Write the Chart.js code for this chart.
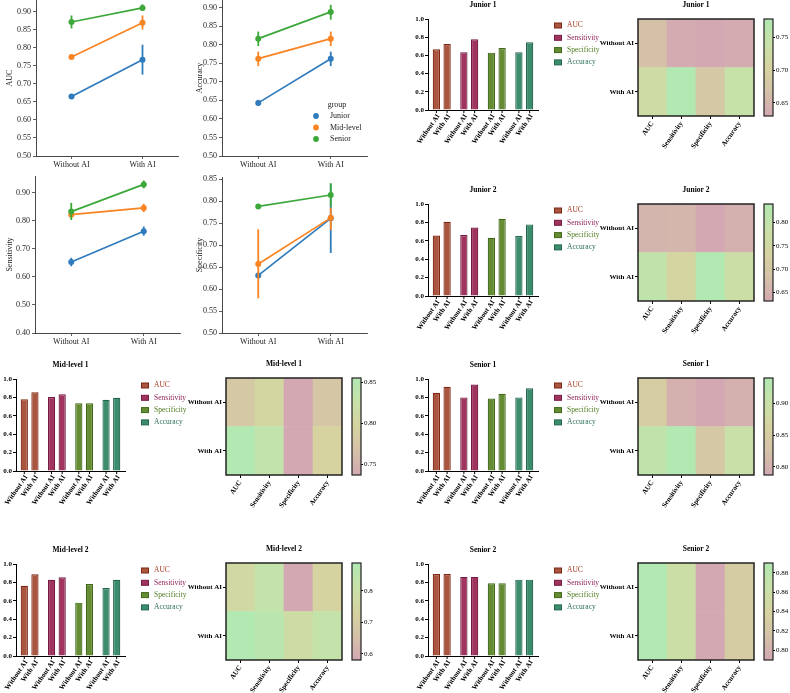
<!DOCTYPE html>
<html>
<head>
<meta charset="utf-8">
<script src="https://cdn.jsdelivr.net/npm/chart.js@4.4.1/dist/chart.umd.min.js"></script>
<style>
  html, body { margin: 0; padding: 0; background: #fff; }
  #fig { position: relative; width: 790px; height: 693px; overflow: hidden; }
  #fig canvas { position: absolute; }
</style>
</head>
<body>
<div id="fig"></div>
<script>
// ---------- data ----------
const phases = ['Without AI', 'With AI'];
const groups = ['Junior', 'Mid-level', 'Senior'];
const metrics = ['AUC', 'Sensitivity', 'Specificity', 'Accuracy'];
const heatRowLabels = ['With AI', 'Without AI']; // bottom -> top

// pooled estimates per group [Without AI, With AI] with CI bounds
const aucMean = [[0.665, 0.767], [0.775, 0.870], [0.872, 0.911]];
const aucLow = [[0.662, 0.726], [0.772, 0.851], [0.854, 0.904]];
const aucHigh = [[0.668, 0.809], [0.778, 0.890], [0.890, 0.921]];

const accMean = [[0.643, 0.762], [0.762, 0.816], [0.816, 0.888]];
const accLow = [[0.635, 0.742], [0.742, 0.796], [0.796, 0.867]];
const accHigh = [[0.651, 0.781], [0.781, 0.835], [0.835, 0.907]];

const sensMean = [[0.653, 0.763], [0.822, 0.846], [0.833, 0.930]];
const sensLow = [[0.638, 0.747], [0.813, 0.831], [0.803, 0.916]];
const sensHigh = [[0.668, 0.780], [0.830, 0.861], [0.864, 0.944]];

const specMean = [[0.631, 0.761], [0.657, 0.762], [0.788, 0.814]];
const specLow = [[0.628, 0.682], [0.579, 0.734], [0.786, 0.787]];
const specHigh = [[0.634, 0.839], [0.736, 0.785], [0.790, 0.841]];

const aucTicks = [0.50, 0.55, 0.60, 0.65, 0.70, 0.75, 0.80, 0.85, 0.90];
const accTicks = [0.50, 0.55, 0.60, 0.65, 0.70, 0.75, 0.80, 0.85, 0.90];
const sensTicks = [0.40, 0.50, 0.60, 0.70, 0.80, 0.90];
const specTicks = [0.50, 0.55, 0.60, 0.65, 0.70, 0.75, 0.80, 0.85];

// per-reader values, order = metrics
const junior1Without = [0.667, 0.634, 0.630, 0.634];
const junior1With = [0.726, 0.778, 0.681, 0.744];
const junior2Without = [0.658, 0.662, 0.632, 0.651];
const junior2With = [0.806, 0.745, 0.840, 0.778];
const mid1Without = [0.779, 0.804, 0.737, 0.775];
const mid1With = [0.855, 0.833, 0.737, 0.797];
const mid2Without = [0.764, 0.829, 0.580, 0.738];
const mid2With = [0.888, 0.855, 0.782, 0.829];
const senior1Without = [0.850, 0.800, 0.787, 0.800];
const senior1With = [0.915, 0.940, 0.840, 0.900];
const senior2Without = [0.890, 0.860, 0.790, 0.830];
const senior2With = [0.890, 0.860, 0.790, 0.830];

// colorbar ticks
const junior1Cb = [0.65, 0.70, 0.75];
const junior2Cb = [0.65, 0.70, 0.75, 0.80];
const mid1Cb = [0.75, 0.80, 0.85];
const mid2Cb = [0.6, 0.7, 0.8];
const senior1Cb = [0.80, 0.85, 0.90];
const senior2Cb = [0.80, 0.82, 0.84, 0.86, 0.88];

// ---------- styles ----------
const SERIF = '"Liberation Serif", "Times New Roman", serif';
Chart.defaults.font.family = SERIF;
Chart.defaults.color = '#000';

const groupColors = ['#2f7bbd', '#fa8322', '#3ca83a'];
const metricFill = ['#a9553f', '#a0345f', '#658c33', '#3c8c6e'];
const metricEdge = ['#7e2814', '#741a44', '#3f6a1a', '#24664c'];
const metricText = ['#a33a22', '#8e2456', '#4e7a1e', '#2a6e54'];
const cmapStops = [
  [0, [211, 168, 178]],
  [0.25, [213, 193, 168]],
  [0.5, [214, 211, 160]],
  [0.75, [200, 225, 168]],
  [1, [178, 232, 178]]
];

function cmap(t) {
  t = Math.max(0, Math.min(1, t));
  for (let i = 1; i < cmapStops.length; i++) {
    const [t1, c1] = cmapStops[i];
    const [t0, c0] = cmapStops[i - 1];
    if (t <= t1) {
      const f = (t - t0) / (t1 - t0);
      const c = c0.map((v, k) => Math.round(v + (c1[k] - v) * f));
      return `rgb(${c[0]},${c[1]},${c[2]})`;
    }
  }
  return 'rgb(178,232,178)';
}

const fig = document.getElementById('fig');
function makeCanvas(b) {
  const c = document.createElement('canvas');
  c.width = b.w; c.height = b.h;
  c.style.left = b.x + 'px'; c.style.top = b.y + 'px';
  c.style.width = b.w + 'px'; c.style.height = b.h + 'px';
  fig.appendChild(c);
  return c;
}

// ---------- plugins ----------
const errorBars = {
  id: 'errorBars',
  beforeDatasetDraw(chart, args) {
    const ds = chart.data.datasets[args.index];
    if (!ds.lows) return;
    const y = chart.scales.y, ctx = chart.ctx;
    ctx.save();
    ctx.strokeStyle = ds.borderColor;
    ctx.lineWidth = 1.8;
    args.meta.data.forEach((pt, j) => {
      ctx.beginPath();
      ctx.moveTo(pt.x, y.getPixelForValue(ds.lows[j]));
      ctx.lineTo(pt.x, y.getPixelForValue(ds.highs[j]));
      ctx.stroke();
    });
    ctx.restore();
  }
};

const groupLegend = {
  id: 'groupLegend',
  afterDraw(chart, args, opts) {
    if (!opts.show) return;
    const { right, bottom } = chart.chartArea, ctx = chart.ctx;
    ctx.save();
    ctx.font = '8px ' + SERIF;
    ctx.fillStyle = '#222';
    ctx.textBaseline = 'middle';
    ctx.textAlign = 'center';
    ctx.fillText('group', right - 30, bottom - 51);
    ctx.textAlign = 'left';
    groups.forEach((g, i) => {
      const yy = bottom - 40 + i * 11.5;
      ctx.fillStyle = groupColors[i];
      ctx.beginPath(); ctx.arc(right - 51, yy, 2.9, 0, Math.PI * 2); ctx.fill();
      ctx.fillStyle = '#222';
      ctx.fillText(g, right - 37, yy);
    });
    ctx.restore();
  }
};

const panelTitle = {
  id: 'panelTitle',
  afterDraw(chart, args, opts) {
    if (!opts.text) return;
    const { left, right, top } = chart.chartArea, ctx = chart.ctx;
    ctx.save();
    ctx.font = 'bold 7.5px ' + SERIF;
    ctx.fillStyle = '#000';
    ctx.textAlign = 'center';
    ctx.textBaseline = 'middle';
    ctx.fillText(opts.text, (left + right) / 2, top - 14);
    ctx.restore();
  }
};

const metricLegend = {
  id: 'metricLegend',
  afterDraw(chart, args, opts) {
    if (!opts.show) return;
    const { right, top } = chart.chartArea, ctx = chart.ctx;
    ctx.save();
    ctx.font = '7.5px ' + SERIF;
    ctx.textBaseline = 'middle';
    metrics.forEach((m, i) => {
      const yy = top + 6.5 + i * 12.3;
      ctx.fillStyle = metricFill[i];
      ctx.fillRect(right + 16.5, yy - 2.5, 7, 5);
      ctx.strokeStyle = metricEdge[i];
      ctx.lineWidth = 1;
      ctx.strokeRect(right + 16.5, yy - 2.5, 7, 5);
      ctx.fillStyle = metricText[i];
      ctx.fillText(m, right + 29, yy);
    });
    ctx.restore();
  }
};

const barLabels = {
  id: 'barLabels',
  afterDraw(chart) {
    const ctx = chart.ctx, bottom = chart.chartArea.bottom;
    chart.data.datasets.forEach((ds, i) => {
      chart.getDatasetMeta(i).data.forEach(bar => {
        ctx.save();
        ctx.strokeStyle = '#000';
        ctx.lineWidth = 1;
        ctx.beginPath(); ctx.moveTo(bar.x, bottom); ctx.lineTo(bar.x, bottom + 3); ctx.stroke();
        ctx.translate(bar.x + 2, bottom + 5);
        ctx.rotate(-55 * Math.PI / 180);
        ctx.font = 'bold 7px ' + SERIF;
        ctx.fillStyle = '#000';
        ctx.textAlign = 'right';
        ctx.textBaseline = 'middle';
        ctx.fillText(ds.label, 0, 0);
        ctx.restore();
      });
    });
  }
};

const frame = {
  id: 'frame',
  afterDraw(chart, args, opts) {
    if (!opts.show) return;
    const { left, top, width, height } = chart.chartArea, ctx = chart.ctx;
    ctx.save();
    ctx.strokeStyle = '#222';
    ctx.lineWidth = opts.width || 1.5;
    ctx.strokeRect(left, top, width, height);
    ctx.restore();
  }
};

// ---------- panels ----------
function pad(box, plot) {
  return { left: 0, top: plot.top - box.y, right: box.x + box.w - plot.right, bottom: 0 };
}

function linePanel(box, plot, title, means, lows, highs, ticks, yMin, yMax, legend) {
  const datasets = groups.map((g, i) => ({
    label: g, data: means[i], lows: lows[i], highs: highs[i],
    borderColor: groupColors[i], backgroundColor: groupColors[i],
    borderWidth: 1.7, pointRadius: 3, pointHoverRadius: 3, pointBorderWidth: 0,
    order: 3 - i
  }));
  new Chart(makeCanvas(box), {
    type: 'line',
    data: { labels: phases, datasets },
    options: {
      responsive: false, animation: false, events: [],
      layout: { padding: pad(box, plot) },
      plugins: { legend: { display: false }, tooltip: { enabled: false }, groupLegend: { show: legend } },
      scales: {
        x: {
          offset: true,
          grid: { drawOnChartArea: false, tickLength: 3, color: '#333', lineWidth: 0.8 },
          border: { color: '#333', width: 0.9 },
          ticks: { color: '#222', font: { size: 8 }, padding: 1, maxRotation: 0 },
          afterFit: s => { s.height = box.y + box.h - plot.bottom; }
        },
        y: {
          min: yMin, max: yMax,
          afterBuildTicks: s => { s.ticks = ticks.map(v => ({ value: v })); },
          grid: { drawOnChartArea: false, tickLength: 3, color: '#333', lineWidth: 0.8 },
          border: { color: '#333', width: 0.9 },
          ticks: { color: '#222', font: { size: 8 }, padding: 2, callback: v => v.toFixed(2) },
          title: { display: true, text: title, color: '#222', font: { size: 8 }, padding: { top: 5, bottom: 0 } },
          afterFit: s => { s.width = plot.left - box.x; }
        }
      }
    },
    plugins: [errorBars, groupLegend]
  });
}

function barPanel(box, plot, title, without, withAi) {
  const mk = (label, data) => ({
    label, data,
    backgroundColor: metricFill, borderColor: metricEdge, borderWidth: 1.2,
    categoryPercentage: 0.78, barPercentage: 0.68
  });
  new Chart(makeCanvas(box), {
    type: 'bar',
    data: { labels: metrics, datasets: [mk(phases[0], without), mk(phases[1], withAi)] },
    options: {
      responsive: false, animation: false, events: [],
      layout: { padding: pad(box, plot) },
      plugins: {
        legend: { display: false }, tooltip: { enabled: false },
        panelTitle: { text: title }, metricLegend: { show: true }
      },
      scales: {
        x: {
          grid: { display: false },
          border: { color: '#000', width: 1 },
          ticks: { display: false },
          afterFit: s => { s.height = box.y + box.h - plot.bottom; }
        },
        y: {
          min: 0, max: 1,
          grid: { drawOnChartArea: false, tickLength: 3, color: '#000', lineWidth: 1 },
          border: { color: '#000', width: 1 },
          ticks: { stepSize: 0.2, color: '#000', font: { size: 7, weight: 'bold' }, padding: 1, callback: v => v.toFixed(1) },
          afterFit: s => { s.width = plot.left - box.x; }
        }
      }
    },
    plugins: [panelTitle, metricLegend, barLabels]
  });
}

function heatPanel(box, plot, title, without, withAi, cbBox, cbPlot, cbTicks, cbDec) {
  const all = without.concat(withAi);
  const lo = Math.min(...all), hi = Math.max(...all);
  const rows = [withAi, without];
  const datasets = rows.map((vals, r) => ({
    label: heatRowLabels[r],
    data: vals.map(() => [r, r + 1]),
    backgroundColor: vals.map(v => cmap((v - lo) / (hi - lo))),
    borderWidth: 0, categoryPercentage: 1, barPercentage: 1, grouped: false
  }));
  new Chart(makeCanvas(box), {
    type: 'bar',
    data: { labels: metrics, datasets },
    options: {
      responsive: false, animation: false, events: [],
      layout: { padding: pad(box, plot) },
      plugins: {
        legend: { display: false }, tooltip: { enabled: false },
        panelTitle: { text: title }, frame: { show: true }
      },
      scales: {
        x: {
          grid: { offset: false, drawOnChartArea: false, tickLength: 3, color: '#000' },
          border: { display: false },
          ticks: { minRotation: 55, maxRotation: 55, color: '#000', font: { size: 7, weight: 'bold' }, padding: 1, autoSkip: false },
          afterFit: s => { s.height = box.y + box.h - plot.bottom; }
        },
        y: {
          min: 0, max: 2,
          afterBuildTicks: s => { s.ticks = heatRowLabels.map((l, i) => ({ value: i + 0.5 })); },
          grid: { drawOnChartArea: false, tickLength: 3, color: '#000' },
          border: { display: false },
          ticks: { color: '#000', font: { size: 7, weight: 'bold' }, padding: 1, callback: v => heatRowLabels[Math.floor(v)] },
          afterFit: s => { s.width = plot.left - box.x; }
        }
      }
    },
    plugins: [panelTitle, frame]
  });

  new Chart(makeCanvas(cbBox), {
    type: 'bar',
    data: {
      labels: [''],
      datasets: [{
        data: [[lo, hi]], borderWidth: 0, categoryPercentage: 1, barPercentage: 1,
        backgroundColor: ctx => {
          const area = ctx.chart.chartArea;
          if (!area) return null;
          const g = ctx.chart.ctx.createLinearGradient(0, area.bottom, 0, area.top);
          cmapStops.forEach(([t, c]) => g.addColorStop(t, `rgb(${c[0]},${c[1]},${c[2]})`));
          return g;
        }
      }]
    },
    options: {
      responsive: false, animation: false, events: [],
      layout: { padding: { left: cbPlot.left - cbBox.x, top: cbPlot.top - cbBox.y, bottom: cbBox.y + cbBox.h - cbPlot.bottom, right: 0 } },
      plugins: { legend: { display: false }, tooltip: { enabled: false }, frame: { show: true, width: 1.2 } },
      scales: {
        x: { display: false },
        y: {
          position: 'right', min: lo, max: hi,
          afterBuildTicks: s => { s.ticks = cbTicks.map(v => ({ value: v })); },
          grid: { drawOnChartArea: false, tickLength: 2, color: '#000' },
          border: { display: false },
          ticks: { color: '#000', font: { size: 7 }, padding: 1, callback: v => v.toFixed(cbDec) },
          afterFit: s => { s.width = cbBox.x + cbBox.w - cbPlot.right; }
        }
      }
    },
    plugins: [frame]
  });
}

// ---------- layout ----------
linePanel({ x: 0, y: -8, w: 190, h: 178 }, { left: 36, top: 0, right: 178, bottom: 156 },
  'AUC', aucMean, aucLow, aucHigh, aucTicks, 0.5, 0.933, false);
linePanel({ x: 190, y: -8, w: 200, h: 178 }, { left: 222, top: 0, right: 367, bottom: 156 },
  'Accuracy', accMean, accLow, accHigh, accTicks, 0.5, 0.92, true);
linePanel({ x: 0, y: 165, w: 190, h: 180 }, { left: 35, top: 176, right: 180, bottom: 333 },
  'Sensitivity', sensMean, sensLow, sensHigh, sensTicks, 0.4, 0.96, false);
linePanel({ x: 190, y: 165, w: 200, h: 180 }, { left: 222, top: 177, right: 367, bottom: 333 },
  'Specificity', specMean, specLow, specHigh, specTicks, 0.5, 0.855, false);

barPanel({ x: 390, y: 0, w: 215, h: 150 }, { left: 428, top: 19, right: 538, bottom: 110 }, 'Junior 1', junior1Without, junior1With);
barPanel({ x: 390, y: 150, w: 215, h: 190 }, { left: 428, top: 204, right: 538, bottom: 296 }, 'Junior 2', junior2Without, junior2With);
barPanel({ x: 0, y: 340, w: 215, h: 170 }, { left: 16, top: 379, right: 125, bottom: 471 }, 'Mid-level 1', mid1Without, mid1With);
barPanel({ x: 0, y: 510, w: 215, h: 183 }, { left: 16, top: 564, right: 125, bottom: 656 }, 'Mid-level 2', mid2Without, mid2With);
barPanel({ x: 390, y: 340, w: 215, h: 170 }, { left: 428, top: 379, right: 538, bottom: 471 }, 'Senior 1', senior1Without, senior1With);
barPanel({ x: 390, y: 510, w: 215, h: 183 }, { left: 428, top: 564, right: 538, bottom: 656 }, 'Senior 2', senior2Without, senior2With);

heatPanel({ x: 590, y: 0, w: 170, h: 150 }, { left: 638, top: 19, right: 754, bottom: 116 }, 'Junior 1', junior1Without, junior1With,
  { x: 760, y: 0, w: 30, h: 150 }, { left: 764, top: 19, right: 773, bottom: 116 }, junior1Cb, 2);
heatPanel({ x: 590, y: 150, w: 170, h: 190 }, { left: 638, top: 204, right: 754, bottom: 301 }, 'Junior 2', junior2Without, junior2With,
  { x: 760, y: 150, w: 30, h: 190 }, { left: 764, top: 204, right: 773, bottom: 301 }, junior2Cb, 2);
heatPanel({ x: 180, y: 340, w: 167, h: 170 }, { left: 226, top: 378, right: 342, bottom: 475 }, 'Mid-level 1', mid1Without, mid1With,
  { x: 347, y: 340, w: 43, h: 170 }, { left: 352, top: 378, right: 361, bottom: 475 }, mid1Cb, 2);
heatPanel({ x: 180, y: 510, w: 167, h: 183 }, { left: 226, top: 563, right: 342, bottom: 660 }, 'Mid-level 2', mid2Without, mid2With,
  { x: 347, y: 510, w: 43, h: 183 }, { left: 352, top: 563, right: 361, bottom: 660 }, mid2Cb, 1);
heatPanel({ x: 590, y: 340, w: 170, h: 170 }, { left: 638, top: 378, right: 754, bottom: 475 }, 'Senior 1', senior1Without, senior1With,
  { x: 760, y: 340, w: 30, h: 170 }, { left: 764, top: 378, right: 773, bottom: 475 }, senior1Cb, 2);
heatPanel({ x: 590, y: 510, w: 170, h: 183 }, { left: 638, top: 563, right: 754, bottom: 660 }, 'Senior 2', senior2Without, senior2With,
  { x: 760, y: 510, w: 30, h: 183 }, { left: 764, top: 563, right: 773, bottom: 660 }, senior2Cb, 2);
</script>
</body>
</html>
